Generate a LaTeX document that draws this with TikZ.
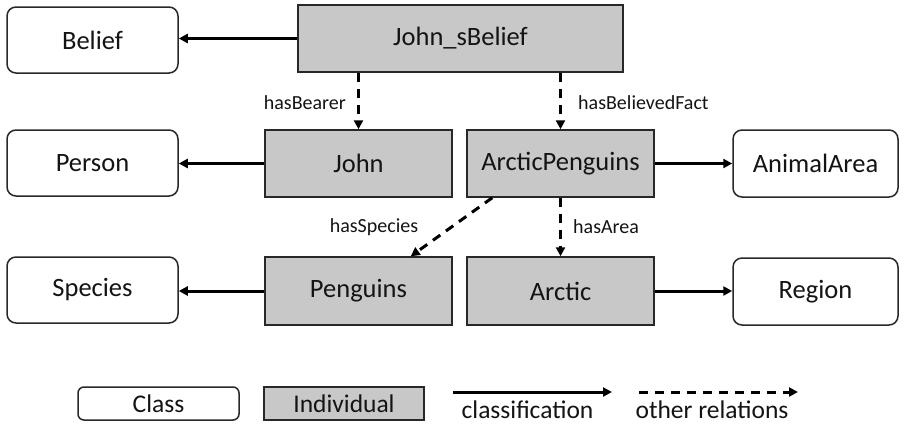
\documentclass[tikz,border=0pt]{standalone}
\usepackage{fontspec}
\setmainfont{Carlito}
\usetikzlibrary{arrows.meta,calc}
\definecolor{indfill}{RGB}{200,200,200}
\definecolor{edgecol}{RGB}{40,40,40}
\definecolor{txt}{RGB}{20,20,20}
\tikzset{
  classbox/.style={draw=edgecol,line width=1.5pt,fill=white,rounded corners=9pt,
    inner sep=0pt,text=txt,font=\fontsize{26.5}{31}\selectfont},
  indbox/.style={draw=edgecol,line width=1.5pt,fill=indfill,
    inner sep=0pt,text=txt,font=\fontsize{26.5}{31}\selectfont},
  classarrow/.style={line width=3pt,draw=black,-{Triangle[length=9pt,width=9pt]}},
  relarrow/.style={line width=3pt,draw=black,dash pattern=on 9pt off 7pt,
    -{Triangle[length=9pt,width=9pt]}},
  rellabel/.style={text=txt,inner sep=0pt,font=\fontsize{20}{24}\selectfont},
  legendtext/.style={text=txt,inner sep=0pt,font=\fontsize{25.5}{30}\selectfont},
}
\begin{document}
\begin{tikzpicture}[x=1pt,y=-1pt]
\useasboundingbox[fill=white] (0,0) rectangle (904,424);

% classes (left and right columns)
\node[classbox,minimum width=171pt,minimum height=66pt] (belief)  at (92.5,40)  {Belief};
\node[classbox,minimum width=171pt,minimum height=66pt] (person)  at (92.5,163) {Person};
\node[classbox,minimum width=171pt,minimum height=66pt] (species) at (92.5,290) {Species};
\node[classbox,minimum width=165pt,minimum height=67pt] (animalarea) at (815.5,163.5) {AnimalArea};
\node[classbox,minimum width=165pt,minimum height=67pt] (region)     at (815.5,291.5) {Region};

% individuals
\node[indbox,minimum width=325pt,minimum height=67pt] (jbelief)  at (460.5,38.5) {John\_sBelief};
\node[indbox,minimum width=187pt,minimum height=67pt] (john)     at (358.5,163.5) {John};
\node[indbox,minimum width=187pt,minimum height=67pt] (arcpeng)  at (560.5,163.5) {ArcticPenguins};
\node[indbox,minimum width=187pt,minimum height=68pt] (penguins) at (358.5,291) {Penguins};
\node[indbox,minimum width=187pt,minimum height=68pt] (arctic)   at (560.5,291) {Arctic};

% classification arrows
\draw[classarrow] (jbelief.west) -- (belief.east |- jbelief.west);
\draw[classarrow] (john.west) -- (person.east |- john.west);
\draw[classarrow] (penguins.west) -- (species.east |- penguins.west);
\draw[classarrow] (arcpeng.east) -- (animalarea.west |- arcpeng.east);
\draw[classarrow] (arctic.east) -- (region.west |- arctic.east);

% other relations
\draw[relarrow] (jbelief.south -| john.north) -- (john.north);
\draw[relarrow] (jbelief.south -| arcpeng.north) -- (arcpeng.north);
\draw[relarrow] (arcpeng.south) -- (arctic.north);
\coordinate (spstart) at ($(arcpeng.south west)+(26,0)$);
\coordinate (spend) at ($(penguins.north east)+(-42,0)$);
\draw[relarrow] (spstart) -- (spend);

\node[rellabel,anchor=east] (lbearer) at (346,103) {hasBearer};
\node[rellabel,anchor=west] (lfact) at (578,103) {hasBelievedFact};
\node[rellabel] (lspecies) at (374,227) {hasSpecies};
\node[rellabel,anchor=west] (larea) at (573,227) {hasArea};

% legend
\node[classbox,rounded corners=6pt,minimum width=161pt,minimum height=33pt,
  font=\fontsize{25.5}{30}\selectfont] (lgclass) at (158.5,403.5) {Class};
\node[indbox,minimum width=160pt,minimum height=33pt,
  font=\fontsize{25.5}{30}\selectfont] (lgind) at (344,403.5) {Individual};
\coordinate (lgca) at (453,392);
\coordinate (lgcb) at (612,392);
\draw[classarrow] (lgca) -- (lgcb);
\node[legendtext] (lgctext) at (527.5,410) {classification};
\coordinate (lgra) at (639,392);
\coordinate (lgrb) at (798,392);
\draw[relarrow] (lgra) -- (lgrb);
\node[legendtext] (lgrtext) at (712,410) {other relations};
\end{tikzpicture}
\end{document}
